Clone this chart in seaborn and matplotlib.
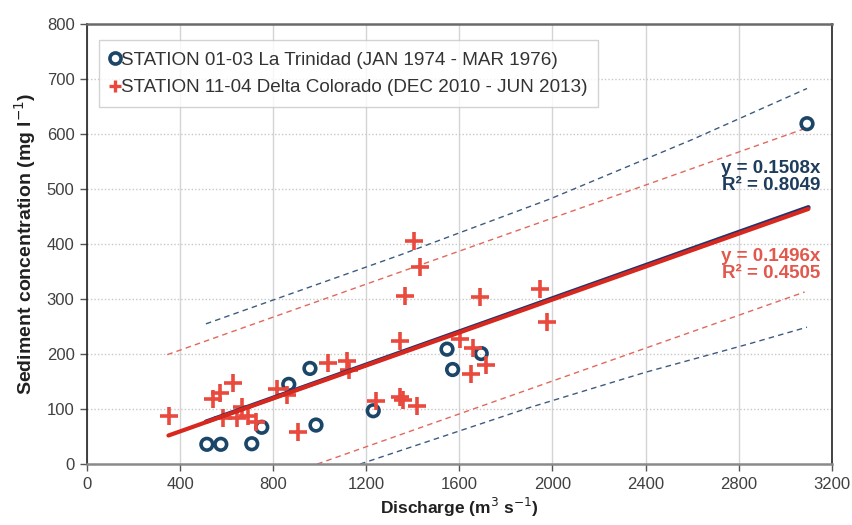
import matplotlib
matplotlib.use("Agg")
import matplotlib.pyplot as plt
from matplotlib.lines import Line2D
import seaborn as sns

# --- дані ---
st1_q = [515, 575, 708, 751, 867, 958, 984, 1230, 1547, 1571, 1694, 3094]
st1_c = [36, 36, 37, 67, 145, 174, 71, 97, 209, 172, 201, 619]

st2_q = [352, 540, 571, 626, 583, 646, 664, 693, 726, 815, 858, 908, 1035, 1118, 1125,
         1244, 1345, 1358, 1419, 1347, 1366, 1406, 1430, 1602, 1657, 1652, 1714, 1688,
         1946, 1975]
st2_c = [87, 118, 130, 147, 83, 83, 103, 87, 77, 136, 125, 59, 183, 188, 172,
         114, 122, 117, 105, 224, 305, 406, 359, 227, 211, 164, 180, 303,
         319, 259]

# лінії тренду (y = a*x) та межі
fit1_q = [511, 3100]
fit1_c = [77, 467]
fit2_q = [350, 3100]
fit2_c = [52, 464]

band1_up_q = [511, 1344, 1989, 2600, 3094]
band1_up_c = [255, 380, 482, 590, 683]
band1_lo_q = [1173, 1903, 2400, 2848, 3094]
band1_lo_c = [0, 103, 167, 219, 249]
band2_up_q = [345, 3084]
band2_up_c = [199, 610]
band2_lo_q = [989, 3084]
band2_lo_c = [0, 313]

label1 = "STATION 01-03 La Trinidad (JAN 1974 - MAR 1976)"
label2 = "STATION 11-04 Delta Colorado (DEC 2010 - JUN 2013)"
eq1 = "y = 0.1508x\nR² = 0.8049"
eq2 = "y = 0.1496x\nR² = 0.4505"

navy = "#1B4668"
navy_line = "#1F3470"
red = "#EA4A3E"
red_line = "#D8281E"

sns.set_theme(style="white")
plt.rcParams["font.family"] = ["Liberation Sans", "DejaVu Sans"]

fig = plt.figure(figsize=(8.53, 5.25), dpi=100)
ax = fig.add_axes([0.102, 0.116, 0.873, 0.838])

# межі (пунктир)
sns.lineplot(x=band1_up_q, y=band1_up_c, ax=ax, color="#3D5C7E", lw=1, linestyle=(0, (4, 3)))
sns.lineplot(x=band1_lo_q, y=band1_lo_c, ax=ax, color="#3D5C7E", lw=1, linestyle=(0, (4, 3)))
sns.lineplot(x=band2_up_q, y=band2_up_c, ax=ax, color="#E2685C", lw=1, linestyle=(0, (4, 3)))
sns.lineplot(x=band2_lo_q, y=band2_lo_c, ax=ax, color="#E2685C", lw=1, linestyle=(0, (4, 3)))

# точки
sns.scatterplot(x=st1_q, y=st1_c, ax=ax, marker="o", s=70, facecolors="none",
                edgecolors=navy, linewidth=2.6, zorder=3)
sns.scatterplot(x=st2_q, y=st2_c, ax=ax, marker="+", s=150, color=red,
                linewidth=2.6, zorder=3)

# тренди
sns.lineplot(x=fit1_q, y=fit1_c, ax=ax, color=navy_line, lw=3.2, zorder=4)
sns.lineplot(x=fit2_q, y=fit2_c, ax=ax, color=red_line, lw=3.0, zorder=4)

ax.text(3150, 522, eq1, color="#1E3C5C", fontsize=13.5, fontweight="bold",
        ha="right", va="center", linespacing=1.0)
ax.text(3150, 362, eq2, color="#E2584C", fontsize=13.5, fontweight="bold",
        ha="right", va="center", linespacing=1.0)

ax.set_xlim(0, 3200)
ax.set_ylim(0, 800)
ax.set_xticks(range(0, 3201, 400))
ax.set_yticks(range(0, 801, 100))
ax.tick_params(axis="both", labelsize=12, direction="out",
               length=5, width=1, pad=4, left=True, bottom=True,
               colors="#555555", labelcolor="#404040")

ax.grid(axis="x", color="#D4D4D4", lw=1, linestyle="-")
ax.grid(axis="y", color="#C8C8C8", lw=1, linestyle=(0, (1, 1.5)))
ax.set_axisbelow(True)

for side in ["left", "right"]:
    ax.spines[side].set_color("#222222")
    ax.spines[side].set_linewidth(1.2)
ax.spines["top"].set_color("#6A6A6A")
ax.spines["top"].set_linewidth(1.8)
ax.spines["bottom"].set_color("#8A8A8A")
ax.spines["bottom"].set_linewidth(1.8)

ax.set_xlabel("Discharge (m$^{3}$ s$^{-1}$)", fontsize=12.5, fontweight="bold",
              color="#202020", labelpad=3)
ax.set_ylabel("Sediment concentration (mg l$^{-1}$)", fontsize=14, fontweight="bold",
              color="#202020", labelpad=6)

handles = [
    Line2D([], [], marker="o", ls="none", mfc="none", mec=navy, mew=2.6, ms=8),
    Line2D([], [], marker="+", ls="none", color=red, mew=2.4, ms=9),
]
leg = ax.legend(handles, [label1, label2], loc="upper left",
                bbox_to_anchor=(0.016, 0.964), borderaxespad=0, frameon=True,
                fancybox=False, fontsize=13.6, handlelength=0.5, handletextpad=0.05,
                borderpad=0.6, labelspacing=0.55, labelcolor="#333333")
leg.get_frame().set_edgecolor("#C8C8C8")
leg.get_frame().set_linewidth(1)

fig.savefig("out.png", dpi=100)
